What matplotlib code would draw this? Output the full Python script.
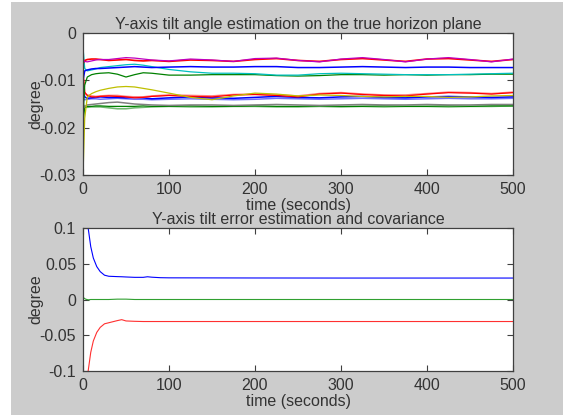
import matplotlib
matplotlib.use("Agg")
import matplotlib.pyplot as plt
from matplotlib.patches import Rectangle

plt.rcParams['font.family'] = ['Liberation Sans', 'DejaVu Sans']
plt.rcParams['axes.unicode_minus'] = False

# ---------------- data: top panel (tilt angle estimates, degree) ----------------
t_top = [0, 2, 5, 10, 15, 20, 30, 40, 50, 60, 70, 80, 100, 125, 150, 175, 200,
         225, 250, 275, 300, 325, 350, 375, 400, 425, 450, 475, 500]

magenta_top = [-0.0056, -0.0060, -0.0061, -0.0059, -0.0057, -0.0056, -0.0056, -0.0054, -0.0052, -0.0053,
               -0.0055, -0.0057, -0.0059, -0.0055, -0.0057, -0.0060, -0.0054, -0.0053, -0.0058, -0.0061,
               -0.0055, -0.0052, -0.0056, -0.0061, -0.0055, -0.0052, -0.0056, -0.0061, -0.0055]
red_top = [-0.0065, -0.0058, -0.0056, -0.0055, -0.0055, -0.0056, -0.0058, -0.0057, -0.0056, -0.0058,
           -0.0059, -0.0058, -0.0060, -0.0057, -0.0058, -0.0060, -0.0056, -0.0054, -0.0058, -0.0060,
           -0.0056, -0.0054, -0.0057, -0.0060, -0.0055, -0.0054, -0.0057, -0.0060, -0.0056]
blue_top = [-0.0100, -0.0080, -0.0078, -0.0076, -0.0075, -0.0075, -0.0074, -0.0073, -0.0072, -0.0071,
            -0.0072, -0.0073, -0.0072, -0.0071, -0.0072, -0.0072, -0.0071, -0.0071, -0.0073, -0.0073,
            -0.0072, -0.0071, -0.0072, -0.0073, -0.0072, -0.0072, -0.0073, -0.0073, -0.0073]
cyan_top = [-0.0030, -0.0075, -0.0080, -0.0078, -0.0076, -0.0073, -0.0071, -0.0069, -0.0067, -0.0066,
            -0.0068, -0.0071, -0.0077, -0.0082, -0.0085, -0.0085, -0.0086, -0.0089, -0.0089, -0.0086,
            -0.0085, -0.0086, -0.0087, -0.0088, -0.0088, -0.0088, -0.0087, -0.0086, -0.0085]
green_top = [-0.0180, -0.0110, -0.0093, -0.0088, -0.0086, -0.0085, -0.0084, -0.0087, -0.0093, -0.0088,
             -0.0084, -0.0085, -0.0089, -0.0089, -0.0088, -0.0088, -0.0088, -0.0090, -0.0091, -0.0090,
             -0.0088, -0.0088, -0.0089, -0.0088, -0.0089, -0.0088, -0.0088, -0.0087, -0.0087]
yellow_mid = [-0.0300, -0.0180, -0.0135, -0.0128, -0.0124, -0.0121, -0.0117, -0.0114, -0.0113, -0.0114,
              -0.0117, -0.0120, -0.0127, -0.0136, -0.0141, -0.0133, -0.0127, -0.0129, -0.0133, -0.0131,
              -0.0132, -0.0134, -0.0135, -0.0134, -0.0134, -0.0136, -0.0135, -0.0133, -0.0132]
red_mid = [-0.0080, -0.0125, -0.0132, -0.0135, -0.0135, -0.0134, -0.0133, -0.0134, -0.0135, -0.0137,
           -0.0136, -0.0134, -0.0132, -0.0134, -0.0135, -0.0131, -0.0130, -0.0132, -0.0135, -0.0129,
           -0.0127, -0.0130, -0.0132, -0.0133, -0.0129, -0.0126, -0.0127, -0.0129, -0.0126]
pink_mid = [-0.0090, -0.0128, -0.0131, -0.0133, -0.0134, -0.0133, -0.0132, -0.0132, -0.0134, -0.0135,
            -0.0135, -0.0133, -0.0131, -0.0132, -0.0133, -0.0130, -0.0129, -0.0131, -0.0133, -0.0128,
            -0.0126, -0.0129, -0.0131, -0.0131, -0.0128, -0.0125, -0.0126, -0.0128, -0.0125]
blue_mid = [-0.0120, -0.0135, -0.0138, -0.0137, -0.0136, -0.0135, -0.0136, -0.0136, -0.0137, -0.0136,
            -0.0137, -0.0139, -0.0137, -0.0135, -0.0137, -0.0138, -0.0136, -0.0134, -0.0136, -0.0137,
            -0.0135, -0.0134, -0.0136, -0.0137, -0.0135, -0.0134, -0.0135, -0.0136, -0.0135]
lightblue_mid = [-0.0140, -0.0141, -0.0140, -0.0139, -0.0139, -0.0140, -0.0139, -0.0138, -0.0139, -0.0140,
                 -0.0140, -0.0141, -0.0140, -0.0139, -0.0140, -0.0141, -0.0140, -0.0138, -0.0139, -0.0140,
                 -0.0139, -0.0138, -0.0139, -0.0140, -0.0139, -0.0138, -0.0139, -0.0139, -0.0138]
grey_low = [-0.0160, -0.0155, -0.0152, -0.0151, -0.0150, -0.0149, -0.0147, -0.0146, -0.0148, -0.0150,
            -0.0151, -0.0152, -0.0153, -0.0152, -0.0152, -0.0153, -0.0152, -0.0151, -0.0152, -0.0153,
            -0.0152, -0.0151, -0.0152, -0.0152, -0.0151, -0.0152, -0.0152, -0.0151, -0.0151]
green_low = [-0.0190, -0.0158, -0.0155, -0.0155, -0.0154, -0.0154, -0.0155, -0.0155, -0.0155, -0.0155,
             -0.0154, -0.0155, -0.0155, -0.0154, -0.0155, -0.0155, -0.0154, -0.0155, -0.0155, -0.0154,
             -0.0155, -0.0155, -0.0154, -0.0155, -0.0155, -0.0154, -0.0155, -0.0154, -0.0154]
lightgreen_low = [-0.0150, -0.0156, -0.0157, -0.0156, -0.0156, -0.0156, -0.0158, -0.0160, -0.0160, -0.0158,
                  -0.0157, -0.0156, -0.0155, -0.0156, -0.0156, -0.0155, -0.0155, -0.0156, -0.0156, -0.0155,
                  -0.0156, -0.0155, -0.0156, -0.0155, -0.0155, -0.0156, -0.0155, -0.0155, -0.0154]

top_series = [
    (lightgreen_low, '#70b870', 1.2), (green_low, '#008000', 0.9), (grey_low, '#808080', 1.1),
    (lightblue_mid, '#7070ff', 1.1), (blue_mid, '#0000ff', 1.1), (pink_mid, '#ff8080', 1.2),
    (red_mid, '#ff0000', 0.9), (yellow_mid, '#bfbf00', 0.9),
    (green_top, '#008000', 0.9), (cyan_top, '#00bfbf', 0.9), (blue_top, '#0000ff', 1.1),
    (red_top, '#ff0000', 1.2), (magenta_top, '#bf00bf', 0.9),
]

# ---------------- data: bottom panel (error estimate and covariance bounds) ----------------
t_bot = [0, 3, 6, 9, 12, 16, 20, 25, 30, 40, 45, 50, 60, 70, 75, 80, 90, 100, 150, 200, 300, 400, 500]
cov_upper = [0.30, 0.17, 0.100, 0.074, 0.058, 0.046, 0.039, 0.034, 0.0325, 0.0320, 0.0318, 0.0315, 0.0310,
             0.0310, 0.0318, 0.0312, 0.0305, 0.0303, 0.0302, 0.0301, 0.0300, 0.0300, 0.0300]
err_est = [0.0030, 0.0005, -0.0005, 0.0000, 0.0000, 0.0000, 0.0000, 0.0000, 0.0000, 0.0005, 0.0005, 0.0005,
           0.0000, 0.0000, 0.0000, 0.0000, 0.0000, 0.0000, 0.0000, 0.0000, 0.0000, 0.0000, 0.0000]
cov_lower = [-0.30, -0.17, -0.100, -0.074, -0.058, -0.046, -0.039, -0.034, -0.0325, -0.0295, -0.0282, -0.0300,
             -0.0305, -0.0308, -0.0308, -0.0308, -0.0308, -0.0308, -0.0308, -0.0308, -0.0308, -0.0308, -0.0308]

x_ticks = [0, 100, 200, 300, 400, 500]
top_yticks = [-0.03, -0.02, -0.01, 0]
top_ylabels = ['-0.03', '-0.02', '-0.01', '0']
bot_yticks = [-0.1, -0.05, 0, 0.05, 0.1]
bot_ylabels = ['-0.1', '-0.05', '0', '0.05', '0.1']

# ---------------- figure ----------------
W, H = 563, 415
fig = plt.figure(figsize=(W / 100, H / 100), dpi=100)
fig.patch.set_facecolor('white')
fig.patches.append(Rectangle((11 / W, 0), 1 - 11 / W, 1 - 2 / H, transform=fig.transFigure,
                             facecolor='#cccccc', edgecolor='none', zorder=-10))

txt = '#333333'
fs = 11.5

def box(l, t, r, b):
    return [l / W, 1 - b / H, (r - l) / W, (b - t) / H]

ax1 = fig.add_axes(box(83, 33, 513, 175))
ax2 = fig.add_axes(box(83, 228, 513, 371))

for y, c, lw in top_series:
    ax1.plot(t_top, y, color=c, lw=lw)
ax2.plot(t_bot, cov_upper, color='#0000ff', lw=0.8)
ax2.plot(t_bot, err_est, color='#30a030', lw=0.8)
ax2.plot(t_bot, cov_lower, color='#ff3030', lw=0.8)

ax1.set_ylim(-0.03, 0)
ax1.set_yticks(top_yticks)
ax1.set_yticklabels(top_ylabels)
ax2.set_ylim(-0.1, 0.1)
ax2.set_yticks(bot_yticks)
ax2.set_yticklabels(bot_ylabels)

for ax in (ax1, ax2):
    ax.set_facecolor('white')
    ax.set_xlim(0, 500)
    ax.set_xticks(x_ticks)
    ax.set_xticklabels([str(v) for v in x_ticks])
    ax.tick_params(direction='in', top=True, right=True, length=4, width=0.8,
                   color='#404040', labelcolor=txt, labelsize=fs, pad=5)
    for s in ax.spines.values():
        s.set_color('#404040')
        s.set_linewidth(0.9)
    ax.set_xlabel('time (seconds)', fontsize=fs, color=txt, labelpad=1)
    ax.set_ylabel('degree', fontsize=fs, color=txt, labelpad=-3)

ax1.set_title('Y-axis tilt angle estimation on the true horizon plane', fontsize=fs, color=txt, pad=3)
ax2.set_title('Y-axis tilt error estimation and covariance', fontsize=fs, color=txt, pad=3)

fig.savefig('out.png', dpi=100, facecolor=fig.get_facecolor())
